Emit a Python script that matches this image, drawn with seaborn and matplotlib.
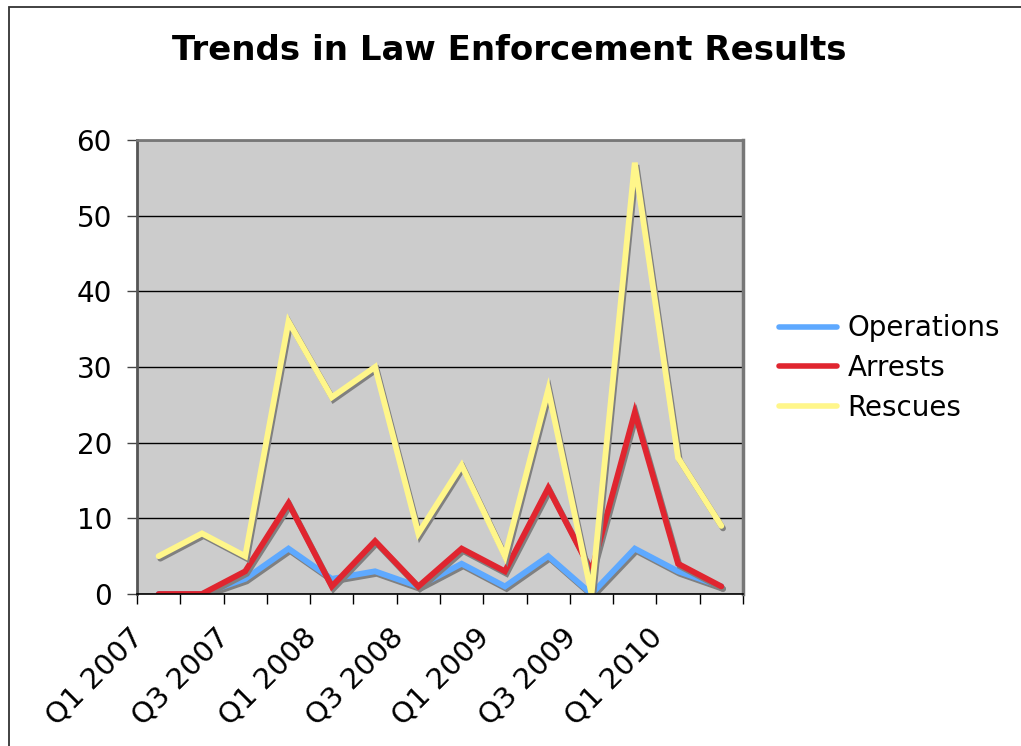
import matplotlib
matplotlib.use("Agg")
import matplotlib.pyplot as plt
import matplotlib.patheffects as pe
from matplotlib.patches import Rectangle
from matplotlib.lines import Line2D
import seaborn as sns
import pandas as pd
import numpy as np

quarters = ["Q1 2007", "Q2 2007", "Q3 2007", "Q4 2007",
            "Q1 2008", "Q2 2008", "Q3 2008", "Q4 2008",
            "Q1 2009", "Q2 2009", "Q3 2009", "Q4 2009",
            "Q1 2010", "Q2 2010"]
operations = [0, 0, 2, 6, 2, 3, 1, 4, 1, 5, 0, 6, 3, 1]
arrests = [0, 0, 3, 12, 1, 7, 1, 6, 3, 14, 3, 24, 4, 1]
rescues = [5, 8, 5, 36, 26, 30, 8, 17, 5, 27, 0, 57, 18, 9]

series_names = ["Operations", "Arrests", "Rescues"]
series_colors = ["#5EA9FF", "#E0252F", "#FFF68A"]

df = pd.DataFrame({"Quarter": quarters, "Operations": operations,
                   "Arrests": arrests, "Rescues": rescues})
long = df.melt(id_vars="Quarter", var_name="Series", value_name="Value")

sns.set_theme(style="white")
plt.rcParams["font.family"] = ["DejaVu Sans"]
plt.rcParams["text.color"] = "black"
plt.rcParams["xtick.color"] = "black"
plt.rcParams["ytick.color"] = "black"

fig = plt.figure(figsize=(10.21, 7.46), dpi=100)
fig.patch.set_facecolor("white")
ax = fig.add_axes([137/1021, 1-594/746, (743-137)/1021, (594-140)/746])
ax.set_facecolor("#CCCCCC")

sns.lineplot(data=long, x="Quarter", y="Value", hue="Series",
             hue_order=series_names, palette=series_colors, ax=ax,
             linewidth=4.2, legend=False, sort=False)

for line in ax.get_lines():
    line.set_path_effects([pe.SimpleLineShadow(offset=(1.2, -1.8), shadow_color="#808080", alpha=1.0),
                           pe.Normal()])
    line.set_solid_joinstyle("miter")

ax.set_xlim(-0.5, len(quarters) - 0.5)
ax.set_ylim(0, 60)
ax.set_yticks(np.arange(0, 61, 10))
ax.yaxis.grid(True, color="black", linewidth=1)
ax.set_axisbelow(True)

# labels every other quarter, nudged slightly left as in the original layout
label_shift = 0.23
ax.set_xticks(np.arange(0, len(quarters), 2) - label_shift)
ax.set_xticklabels(quarters[::2], rotation=45, ha="right", va="top",
                   rotation_mode="default", fontsize=21, color="black")
ax.set_xticks(np.arange(-0.5, len(quarters), 1), minor=True)
ax.tick_params(axis="x", which="major", length=0, pad=21)
ax.tick_params(axis="x", which="minor", length=7, width=1, color="black", bottom=True)
ax.tick_params(axis="y", which="major", length=7, width=1, color="#444444",
               left=True, labelsize=20, labelcolor="black", pad=11)
ax.set_xlabel("")
ax.set_ylabel("")

for side, col, lw in [("left", "#555555", 2), ("top", "#777777", 2),
                      ("right", "#777777", 2.5), ("bottom", "black", 1.2)]:
    ax.spines[side].set_visible(True)
    ax.spines[side].set_color(col)
    ax.spines[side].set_linewidth(lw)

handles = [Line2D([0], [0], color=c, linewidth=4) for c in series_colors]
leg = fig.legend(handles, series_names, loc="center left",
                 bbox_to_anchor=(779/1021, 1-368/746), frameon=False,
                 fontsize=20, handlelength=2.1, handletextpad=0.36,
                 labelspacing=0.42, borderpad=0, borderaxespad=0)
for t in leg.get_texts():
    t.set_color("black")

fig.text(509/1021, 1-50/746, "Trends in Law Enforcement Results",
         ha="center", va="center", fontsize=24.5, fontweight="bold", color="black")

fig.patches.append(Rectangle((9/1021, -0.1), 1.2, 1 - 7/746 + 0.1,
                             transform=fig.transFigure, fill=False,
                             edgecolor="#333333", linewidth=1.3))

fig.savefig("out.png", dpi=100)
